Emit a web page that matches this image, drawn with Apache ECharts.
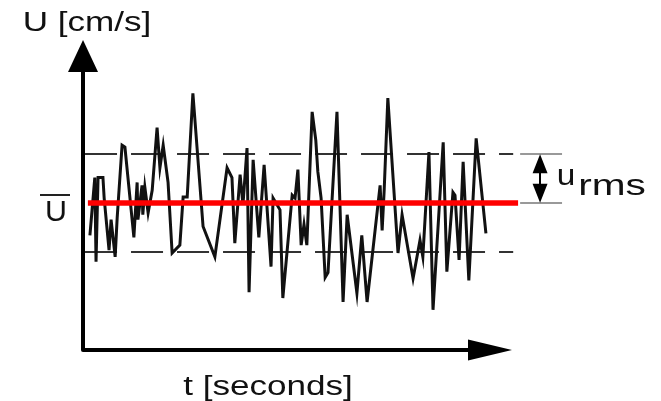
<!DOCTYPE html>
<html lang="en">
<head>
    <meta charset="UTF-8">
    <title>Turbulent velocity signal</title>
    <script src="https://cdn.jsdelivr.net/npm/echarts@6/dist/echarts.min.js"></script>
    <style>
        html, body { margin: 0; padding: 0; background: #fff; }
    </style>
</head>
<body>
    <div id="main" style="width: 661px;height:401px;"></div>
    <script type="text/javascript">

        // time samples (arbitrary units along t) and velocity U [cm/s]
        const time = [
            1.7, 2.9, 3.2, 3.7, 4.9, 5.2, 6.4, 6.9, 7.9, 8.4,
            9.6, 10.3, 12.5, 13.3, 13.5, 14.5, 14.7, 15.2, 16.0, 17.0,
            18.2, 18.9, 19.7, 20.9, 21.9, 23.8, 24.6, 25.6, 27.0, 29.5,
            32.4, 35.4, 36.6, 37.3, 38.6, 39.3, 40.3, 40.8, 41.8, 43.2,
            44.5, 46.2, 46.7, 48.4, 49.1, 51.4, 52.1, 52.8, 53.6, 54.3,
            55.0, 56.3, 57.2, 57.7, 58.5, 59.5, 60.2, 62.4, 63.9, 64.9,
            67.3, 68.5, 69.8, 73.0, 73.5, 74.0, 74.9, 77.4, 78.4, 81.1,
            82.8, 83.5, 85.0, 86.0, 88.5, 89.4, 90.9, 91.4, 92.4, 93.4,
            94.8, 96.6, 99.0
        ];
        const speed = [
            11.7, 17.6, 9.0, 17.6, 17.6, 15.5, 10.2, 13.3, 9.5, 13.5,
            20.9, 20.7, 11.5, 17.1, 13.3, 16.8, 13.8, 16.6, 14.0, 16.3,
            22.7, 18.6, 20.9, 17.1, 9.9, 10.7, 15.6, 15.6, 26.2, 12.6,
            9.5, 18.6, 17.6, 10.9, 17.9, 14.8, 20.6, 5.9, 19.4, 11.5,
            18.9, 8.5, 15.5, 14.3, 5.3, 15.8, 15.5, 18.4, 10.7, 12.8,
            10.7, 24.3, 21.4, 18.2, 15.5, 7.4, 7.9, 24.3, 4.9, 13.8,
            5.8, 11.7, 4.9, 16.8, 12.2, 16.3, 25.7, 9.9, 13.8, 7.3,
            11.2, 9.5, 20.2, 4.1, 21.2, 8.0, 16.1, 15.8, 9.2, 19.2,
            7.1, 21.6, 11.9
        ];
        const meanU = 15;
        const rmsU = 5;
        const tEnd = 100;

        const labelFont = 'Liberation Sans, Arial, sans-serif';
        const signal = time.map(function (t, i) { return [t, speed[i]]; });

        var chartDom = document.getElementById('main');
        var myChart = echarts.init(chartDom);
        var option;

        // the x scale runs past the drawn t axis so the annotations at the right fit in it
        option = {
            animation: false,
            backgroundColor: '#fff',
            grid: { left: 83, right: 89.6, top: 56, bottom: 51 },
            xAxis: {
                type: 'value',
                min: 0,
                max: 120,
                axisLine: { show: false },
                axisTick: { show: false },
                axisLabel: { show: false },
                splitLine: { show: false }
            },
            yAxis: {
                type: 'value',
                min: 0,
                max: 30,
                axisLine: {
                    show: true,
                    symbol: ['none', 'triangle'],
                    symbolSize: [30, 32],
                    lineStyle: { color: '#000', width: 4 }
                },
                axisTick: { show: false },
                axisLabel: { show: false },
                splitLine: { show: false }
            },
            series: [
                {
                    name: 'upper',
                    type: 'line',
                    symbol: 'none',
                    z: 1,
                    lineStyle: { color: '#333', width: 2, type: [32, 14] },
                    data: [[0.5, meanU + rmsU], [105.7, meanU + rmsU]]
                },
                {
                    name: 'lower',
                    type: 'line',
                    symbol: 'none',
                    z: 1,
                    lineStyle: { color: '#333', width: 2, type: [32, 14] },
                    data: [[0.5, meanU - rmsU], [105.7, meanU - rmsU]]
                },
                {
                    name: 'U',
                    type: 'line',
                    symbol: 'none',
                    z: 2,
                    lineStyle: { color: '#111', width: 3, join: 'miter' },
                    data: signal,
                    markLine: {
                        silent: true,
                        symbol: ['none', 'triangle'],
                        symbolSize: [21, 44],
                        label: { show: false },
                        lineStyle: { color: '#000', width: 4, type: 'solid' },
                        data: [[{ coord: [0, 0] }, { coord: [tEnd, 0] }]]
                    }
                },
                {
                    name: 'mean',
                    type: 'line',
                    symbol: 'none',
                    z: 3,
                    lineStyle: { color: '#f00', width: 5.5 },
                    data: [[1.2, meanU], [106.9, meanU]]
                },
                {
                    name: 'tickTop',
                    type: 'line',
                    symbol: 'none',
                    lineStyle: { color: '#999', width: 2 },
                    data: [[107.4, meanU + rmsU], [117.7, meanU + rmsU]],
                    markLine: {
                        silent: true,
                        symbol: ['triangle', 'triangle'],
                        symbolSize: [15, 19],
                        label: { show: false },
                        lineStyle: { color: '#000', width: 2, type: 'solid' },
                        // ends pulled in by half an arrowhead so the tips touch the two levels
                        data: [[{ coord: [112.3, meanU + 1] }, { coord: [112.3, meanU + rmsU - 1] }]]
                    }
                },
                {
                    name: 'tickMid',
                    type: 'line',
                    symbol: 'none',
                    lineStyle: { color: '#999', width: 2 },
                    data: [[107.4, meanU], [117.7, meanU]]
                }
            ],
            graphic: [
                {
                    type: 'text', x: 87, y: 24, scaleX: 1.3,
                    style: { text: 'U [cm/s]', x: 0, y: 0, align: 'center', verticalAlign: 'middle',
                        font: '27px ' + labelFont, fill: '#111' }
                },
                {
                    type: 'text', x: 268, y: 388, scaleX: 1.3,
                    style: { text: 't [seconds]', x: 0, y: 0, align: 'center', verticalAlign: 'middle',
                        font: '27px ' + labelFont, fill: '#111' }
                },
                {
                    type: 'text', x: 56, y: 213, scaleX: 1.05,
                    style: { text: 'U', x: 0, y: 0, align: 'center', verticalAlign: 'middle',
                        font: '29px ' + labelFont, fill: '#111' }
                },
                {
                    type: 'line',
                    shape: { x1: 40, y1: 195, x2: 70, y2: 195 },
                    style: { stroke: '#222', lineWidth: 2 }
                },
                {
                    type: 'text', x: 566, y: 177, scaleX: 1.15,
                    style: { text: 'u', x: 0, y: 0, align: 'center', verticalAlign: 'middle',
                        font: '29px ' + labelFont, fill: '#111' }
                },
                {
                    type: 'text', x: 612, y: 187, scaleX: 1.4,
                    style: { text: 'rms', x: 0, y: 0, align: 'center', verticalAlign: 'middle',
                        font: '29px ' + labelFont, fill: '#111' }
                }
            ]
        };

        option && myChart.setOption(option);

    </script>
</body>
</html>
